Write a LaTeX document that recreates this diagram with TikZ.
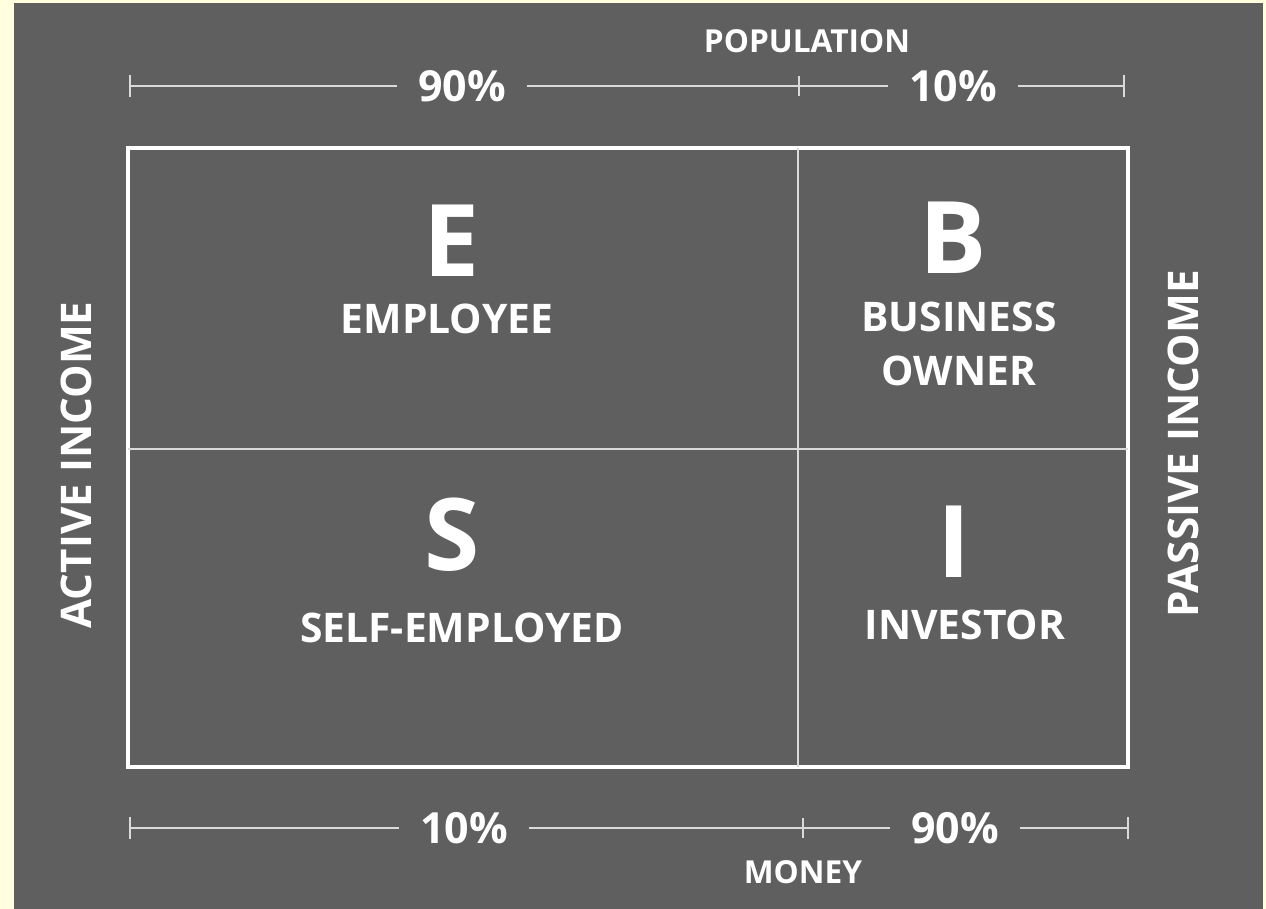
\documentclass[tikz,border=0pt]{standalone}
\usepackage{fontspec}
\setmainfont{Open Sans}
\definecolor{bggray}{RGB}{95,95,95}
\definecolor{pageyellow}{RGB}{255,255,224}
\definecolor{rulegray}{RGB}{218,218,218}
\tikzset{
    bigletter/.style={text=white, inner sep=0pt, font=\bfseries\fontsize{28.5}{30}\selectfont},
    role/.style={text=white, inner sep=0pt, align=center, font=\bfseries\fontsize{11.6}{15.4}\selectfont},
    pct/.style={text=white, inner sep=2mm, font=\bfseries\fontsize{12.2}{14}\selectfont},
    axislabel/.style={text=white, inner sep=0pt, font=\bfseries\fontsize{9}{10}\selectfont},
    sidelabel/.style={text=white, inner sep=0pt, rotate=90, font=\bfseries\fontsize{12}{14}\selectfont},
    dim/.style={draw=rulegray, line width=0.6pt},
}
\begin{document}
\begin{tikzpicture}[x=0.01cm, y=-0.01cm]
    \useasboundingbox (0,0) rectangle (1266,909);
    \fill[pageyellow] (0,0) rectangle (1266,909);
    \fill[bggray] (14,3) rectangle (1263,909);

    % the four quadrants
    \draw[white, line width=1.2pt] (128,148) rectangle (1128,767);
    \draw[rulegray, line width=0.6pt] (798,148) -- (798,767);
    \draw[rulegray, line width=0.6pt] (128,449) -- (1128,449);

    \node[bigletter] (e) at (452,241) {E};
    \node[bigletter] (b) at (953,238) {B};
    \node[bigletter] (s) at (452,535) {S};
    \node[bigletter] (i) at (954,542) {I};
    \node[role] (employee) at (447,319) {EMPLOYEE};
    \node[role] (owner) at (959,344) {BUSINESS\\OWNER};
    \node[role] (selfemp) at (462,628) {SELF-EMPLOYED};
    \node[role] (investor) at (965,625) {INVESTOR};

    \node[sidelabel] (active) at (76,465) {ACTIVE INCOME};
    \node[sidelabel] (passive) at (1183,444) {PASSIVE INCOME};

    % population scale
    \node[axislabel] (population) at (807,41) {POPULATION};
    \coordinate (tl) at (130,86);
    \coordinate (tm) at (799,86);
    \coordinate (tr) at (1124,86);
    \node[pct] (top90) at (462,86) {90\%};
    \node[pct] (top10) at (953,86) {10\%};
    \draw[dim] (tl) -- (top90);
    \draw[dim] (top90) -- (tm) -- (top10);
    \draw[dim] (top10) -- (tr);
    \draw[dim] ([yshift=1.1mm]tl) -- ([yshift=-1.1mm]tl);
    \draw[dim] ([yshift=1mm]tm) -- ([yshift=-1mm]tm);
    \draw[dim] ([yshift=1.1mm]tr) -- ([yshift=-1.1mm]tr);

    % money scale
    \node[axislabel] (money) at (803,872) {MONEY};
    \coordinate (bl) at (130,828);
    \coordinate (bm) at (803,828);
    \coordinate (br) at (1128,828);
    \node[pct] (bot10) at (464,828) {10\%};
    \node[pct] (bot90) at (955,828) {90\%};
    \draw[dim] (bl) -- (bot10);
    \draw[dim] (bot10) -- (bm) -- (bot90);
    \draw[dim] (bot90) -- (br);
    \draw[dim] ([yshift=1.1mm]bl) -- ([yshift=-1.1mm]bl);
    \draw[dim] ([yshift=1mm]bm) -- ([yshift=-1mm]bm);
    \draw[dim] ([yshift=1.1mm]br) -- ([yshift=-1.1mm]br);
\end{tikzpicture}
\end{document}
